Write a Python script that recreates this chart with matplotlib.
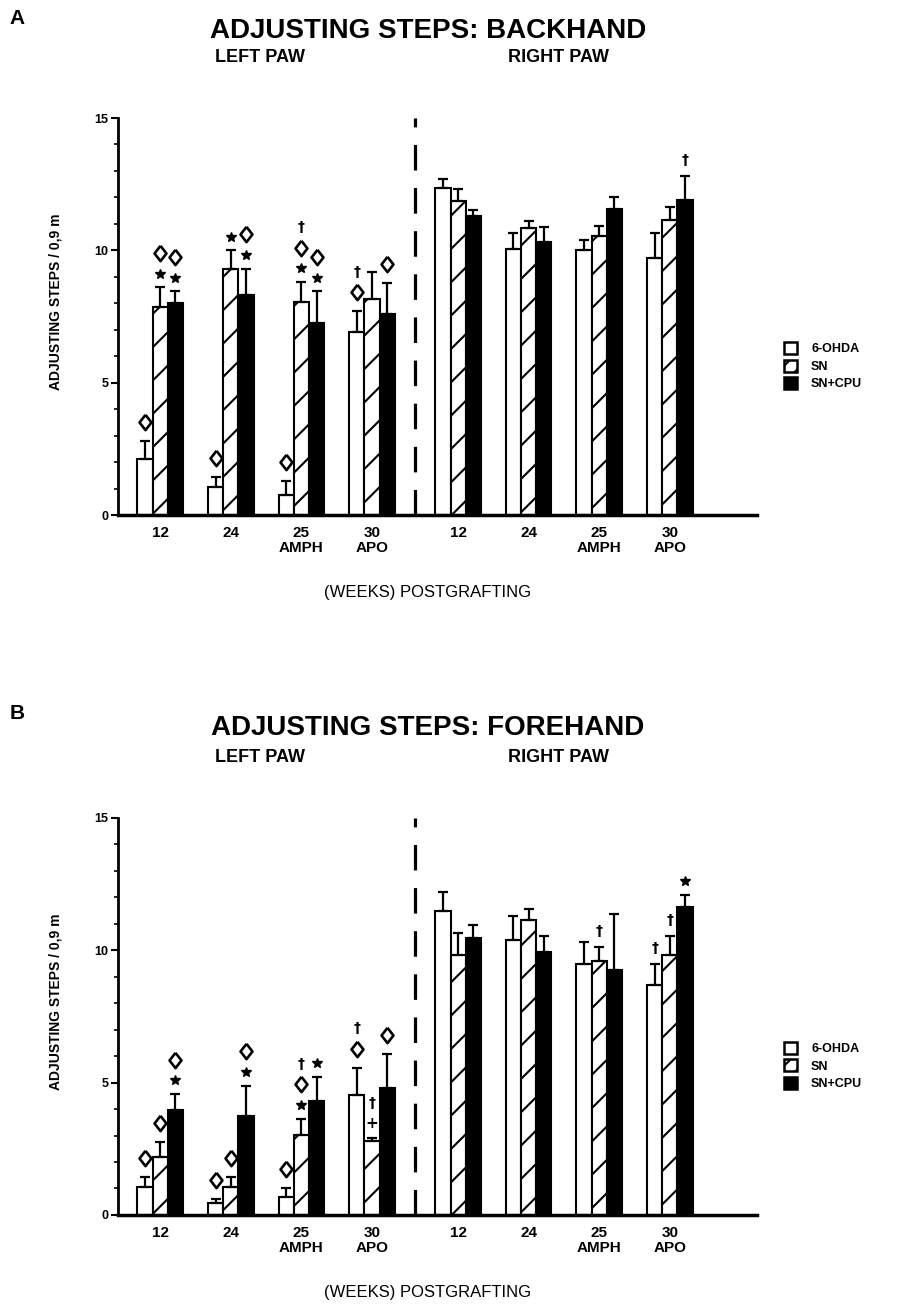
import numpy as np
import matplotlib
matplotlib.use("Agg")
import matplotlib.pyplot as plt
from matplotlib.patches import Patch

plt.rcParams['font.family'] = ['Liberation Sans Narrow', 'Liberation Sans', 'DejaVu Sans']
plt.rcParams['hatch.linewidth'] = 1.5

# ---- data ----
# order of groups: left paw 12, 24, 25 AMPH, 30 APO, then right paw the same
tick_labels = ["12", "24", "25\nAMPH", "30\nAPO", "12", "24", "25\nAMPH", "30\nAPO"]
series = ["6-OHDA", "SN", "SN+CPU"]

# A: backhand
back_ohda = [2.1, 1.05, 0.75, 6.9, 12.35, 10.05, 10.0, 9.7]
back_ohda_sem = [0.7, 0.4, 0.55, 0.8, 0.35, 0.6, 0.4, 0.95]
back_sn = [7.85, 9.3, 8.05, 8.15, 11.85, 10.85, 10.55, 11.15]
back_sn_sem = [0.75, 0.7, 0.75, 1.05, 0.45, 0.27, 0.37, 0.47]
back_cpu = [8.0, 8.3, 7.25, 7.6, 11.3, 10.3, 11.55, 11.9]
back_cpu_sem = [0.45, 1.0, 1.2, 1.15, 0.22, 0.57, 0.45, 0.9]

# B: forehand
fore_ohda = [1.05, 0.45, 0.67, 4.55, 11.47, 10.4, 9.48, 8.7]
fore_ohda_sem = [0.37, 0.15, 0.34, 1.0, 0.73, 0.9, 0.83, 0.78]
fore_sn = [2.18, 1.05, 3.02, 2.81, 9.83, 11.13, 9.6, 9.83]
fore_sn_sem = [0.57, 0.37, 0.61, 0.09, 0.82, 0.44, 0.54, 0.72]
fore_cpu = [3.97, 3.72, 4.32, 4.79, 10.46, 9.92, 9.24, 11.62]
fore_cpu_sem = [0.6, 1.17, 0.91, 1.3, 0.48, 0.63, 2.13, 0.48]

# significance marks: (group, series, symbols from bottom to top)
# D = diamond, * = star, t = dagger, + = plus
back_marks = [(0, 0, "D"), (0, 1, "*D"), (0, 2, "*D"),
              (1, 0, "D"), (1, 1, "*"), (1, 2, "*D"),
              (2, 0, "D"), (2, 1, "*Dt"), (2, 2, "*D"),
              (3, 0, "Dt"), (3, 2, "D"),
              (7, 2, "t")]
fore_marks = [(0, 0, "D"), (0, 1, "D"), (0, 2, "*D"),
              (1, 0, "D"), (1, 1, "D"), (1, 2, "*D"),
              (2, 0, "D"), (2, 1, "*Dt"), (2, 2, "*"),
              (3, 0, "Dt"), (3, 1, "+t"), (3, 2, "D"),
              (6, 1, "t"), (7, 0, "t"), (7, 1, "t"), (7, 2, "*")]

fig = plt.figure(figsize=(9.07, 13.04), dpi=100)

# group positions: a wider gap between left and right paw
group_x = np.array([0, 1, 2, 3, 4.22, 5.22, 6.22, 7.22])
w = 0.215
styles = [dict(facecolor="white", hatch=None),
          dict(facecolor="white", hatch="/"),
          dict(facecolor="black", hatch=None)]
first_off = {"D": 0.72, "*": 0.52, "t": 0.6, "+": 0.55}
diamond = [(0, 1), (0.78, 0), (0, -1), (-0.78, 0), (0, 1)]


def draw_panel(ax, means, sems, marks):
    for i in range(3):
        x = group_x + (i - 1) * w
        ax.bar(x, means[i], width=w, edgecolor="black", linewidth=1.5,
               **styles[i])
        ax.errorbar(x, means[i], yerr=[np.zeros(8), sems[i]], fmt="none",
                    ecolor="black", elinewidth=1.6, capsize=3.5, capthick=1.6)
    # marks above error bars
    for g, s, sym in marks:
        x = group_x[g] + (s - 1) * w
        y = means[s][g] + sems[s][g] + first_off[sym[0]]
        for k, c in enumerate(sym):
            if k > 0:
                y += 0.78
            if c == "D":
                ax.plot(x, y, marker=diamond, ms=11, mfc="white", mec="black", mew=1.9)
            elif c == "*":
                ax.plot(x, y, marker="*", ms=7, color="black")
            elif c == "t":
                ax.text(x, y, "\u2020", ha="center", va="center", fontsize=10,
                        fontweight="bold", family=["DejaVu Sans"])
            else:
                ax.text(x, y, "+", ha="center", va="center", fontsize=11,
                        fontweight="bold", family=["DejaVu Sans"])
    # dashed divider between paws
    ax.axvline((group_x[3] + group_x[4]) / 2, color="black", lw=2.3,
               dashes=(8, 5.5))
    ax.set_xlim(-0.6, 8.46)
    ax.set_ylim(0, 15)
    ax.set_yticks([0, 5, 10, 15])
    ax.set_yticks(np.arange(0, 16, 1), minor=True)
    ax.tick_params(axis="y", which="major", length=5, width=1.5, labelsize=9, pad=2)
    ax.tick_params(axis="y", which="minor", length=3, width=1.2)
    for lab in ax.get_yticklabels():
        lab.set_fontweight("bold")
    ax.set_xticks(group_x)
    ax.set_xticklabels(tick_labels, fontsize=11, fontweight="bold", linespacing=1.1)
    ax.tick_params(axis="x", length=0, pad=8)
    ax.spines["top"].set_visible(False)
    ax.spines["right"].set_visible(False)
    ax.spines["left"].set_linewidth(2)
    ax.spines["bottom"].set_linewidth(2.5)
    ax.text(-0.097, 0.537, "ADJUSTING STEPS / 0,9 m", transform=ax.transAxes,
            rotation=90, ha="center", va="center", fontsize=10, fontweight="bold")
    ax.text(0.485, -0.196, "(WEEKS) POSTGRAFTING", transform=ax.transAxes,
            ha="center", va="center", fontsize=12)
    handles = [Patch(facecolor="white", edgecolor="black", lw=1.8),
               Patch(facecolor="white", edgecolor="black", lw=1.8, hatch="//"),
               Patch(facecolor="black", edgecolor="black", lw=1.8)]
    ax.legend(handles, series, loc="center left", bbox_to_anchor=(1.041, 0.375),
              frameon=False, handlelength=1.1, handleheight=1.1, handletextpad=1.1,
              labelspacing=0.35, borderpad=0, borderaxespad=0,
              prop=dict(size=9, weight="bold"))


axA = fig.add_axes([0.130, 0.605, 0.705, 0.3045])
draw_panel(axA, [back_ohda, back_sn, back_cpu],
           [back_ohda_sem, back_sn_sem, back_cpu_sem], back_marks)
axB = fig.add_axes([0.130, 0.0683, 0.705, 0.3044])
draw_panel(axB, [fore_ohda, fore_sn, fore_cpu],
           [fore_ohda_sem, fore_sn_sem, fore_cpu_sem], fore_marks)

# titles and panel letters
H = 1304.0
fig.text(17 / 907, 1 - 18 / H, "A", fontsize=15, fontweight="bold", ha="center", va="center")
fig.text(428 / 907, 1 - 31 / H, "ADJUSTING STEPS: BACKHAND", fontsize=20,
         fontweight="bold", ha="center", va="center")
fig.text(260 / 907, 1 - 58 / H, "LEFT PAW", fontsize=13, fontweight="bold", ha="center", va="center")
fig.text(558 / 907, 1 - 58 / H, "RIGHT PAW", fontsize=13, fontweight="bold", ha="center", va="center")

fig.text(17 / 907, 1 - 714 / H, "B", fontsize=15, fontweight="bold", ha="center", va="center")
fig.text(428 / 907, 1 - 728 / H, "ADJUSTING STEPS: FOREHAND", fontsize=20,
         fontweight="bold", ha="center", va="center")
fig.text(260 / 907, 1 - 757 / H, "LEFT PAW", fontsize=13, fontweight="bold", ha="center", va="center")
fig.text(558 / 907, 1 - 757 / H, "RIGHT PAW", fontsize=13, fontweight="bold", ha="center", va="center")

fig.savefig("out.png", dpi=100)
